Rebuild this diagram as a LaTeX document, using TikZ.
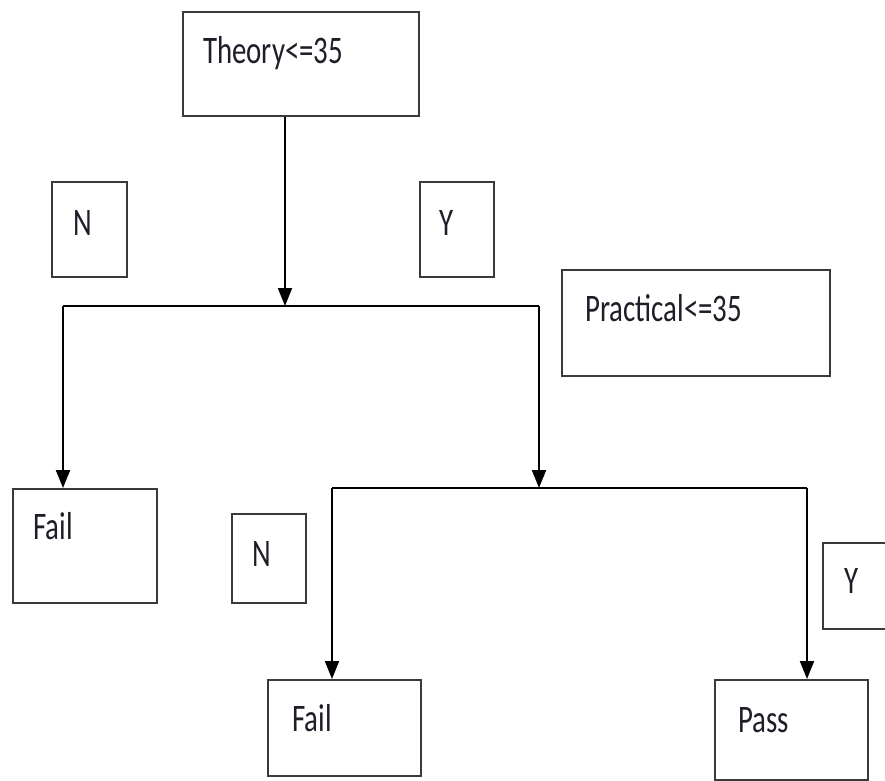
\documentclass[tikz,border=0pt]{standalone}
\usepackage{fontspec}
\setmainfont{Carlito}[FakeStretch=0.74]
\usetikzlibrary{arrows.meta}
\definecolor{boxline}{HTML}{3A3A3A}
\definecolor{txt}{HTML}{1E1E28}
\tikzset{
  box/.style={draw=boxline, line width=2pt, rectangle, inner sep=0pt, fill=white},
  lbl/.style={anchor=base west, inner sep=0pt, text=txt, font=\fontsize{39}{39}\selectfont},
  lblc/.style={anchor=base, inner sep=0pt, text=txt, font=\fontsize{39}{39}\selectfont},
  conn/.style={draw=black, line width=2pt},
  arr/.style={conn, -{Triangle[length=18pt,width=14pt]}}
}
\begin{document}
\begin{tikzpicture}[x=1pt,y=-1pt]
\useasboundingbox (0,0) rectangle (885,780);
\clip (0,0) rectangle (885,780);
% boxes
\node[box, minimum width=236pt, minimum height=104pt] (theory) at (301,64) {};
\node[box, minimum width=75pt, minimum height=95pt] (n1) at (89.5,229.5) {};
\node[box, minimum width=74pt, minimum height=95pt] (y1) at (457,229.5) {};
\node[box, minimum width=268pt, minimum height=106pt] (practical) at (696,323) {};
\node[box, minimum width=144pt, minimum height=114pt] (fail1) at (85,546) {};
\node[box, minimum width=74pt, minimum height=89pt] (n2) at (269,558.5) {};
\node[box, minimum width=153pt, minimum height=96pt] (fail2) at (344.5,728) {};
\node[box, minimum width=153pt, minimum height=100pt] (pass) at (791.5,730) {};
\node[box, minimum width=80pt, minimum height=86pt] (y2) at (863,586) {};
% texts
\node[lbl] (ttheory) at (203,63) {Theory<=35};
\node[lblc] (tn1) at (83,235) {N};
\node[lblc] (ty1) at (447,235) {Y};
\node[lbl] (tpractical) at (585,321) {Practical<=35};
\node[lbl] (tfail1) at (33,539) {Fail};
\node[lblc] (tn2) at (262,566) {N};
\node[lblc] (ty2) at (852,593) {Y};
\node[lbl] (tfail2) at (292,731) {Fail};
\node[lbl] (tpass) at (738,732) {Pass};
% junction coordinates
\coordinate (j1) at (285,306);
\coordinate (l1) at (63,306);
\coordinate (r1) at (539,306);
\coordinate (j2) at (539,488);
\coordinate (l2) at (332,488);
\coordinate (r2) at (807,488);
% connectors
\draw[arr] (theory.south -| j1) -- (j1);
\draw[conn] (l1) -- (r1);
\draw[arr] (l1) -- (l1 |- fail1.north);
\draw[arr] (r1) -- (j2);
\draw[conn] (l2) -- (r2);
\draw[arr] (l2) -- (l2 |- fail2.north);
\draw[arr] (r2) -- (r2 |- pass.north);
\end{tikzpicture}
\end{document}
